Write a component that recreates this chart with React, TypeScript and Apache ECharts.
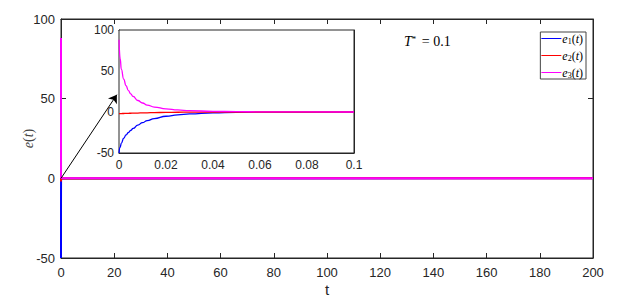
import React, { useEffect, useRef } from "react";
import * as echarts from "echarts";

const tVals = [0, 0.0005, 0.001, 0.002, 0.003, 0.004, 0.005, 0.006, 0.008, 0.01, 0.012, 0.015, 0.02, 0.025, 0.03, 0.04, 0.05, 0.06, 0.08, 0.1];
const e1Vals = [-50, -43, -38, -32, -28, -25, -22.5, -20, -16, -13, -10.5, -8, -5.2, -3.5, -2.4, -1.1, -0.5, -0.2, -0.05, 0];
const e2Vals = [-2, -1.95, -1.9, -1.8, -1.7, -1.6, -1.5, -1.4, -1.25, -1.1, -0.95, -0.75, -0.5, -0.3, -0.2, -0.08, -0.03, -0.01, 0, 0];
const e3Vals = [88, 65, 52, 40, 32, 26, 22, 19, 14, 11, 8.5, 6, 3.8, 2.5, 1.6, 0.8, 0.4, 0.2, 0.05, 0];
const tEnd = 200;
const seriesNames = ["e1", "e2", "e3"];
const seriesColors = ["#0000ff", "#ff0000", "#ff00ff"];
const arrowStart = [0, 0];
const arrowEnd = [21, 52.5];

const FONT = "Liberation Sans, Arial, sans-serif";
const SERIF = "Liberation Serif, Times New Roman, serif";
const AX = "#262626";

function pairs(vals: number[]) {
  return tVals.map((t, i) => [t, vals[i]]);
}

export default function App() {
  const ref = useRef<HTMLDivElement>(null);
  useEffect(() => {
    if (!ref.current) return;
    const chart = echarts.init(ref.current, undefined, { renderer: "svg" });
    const allVals = [e1Vals, e2Vals, e3Vals];
    const axisCommon = (extra: any) => ({
      axisLine: { show: true, onZero: false, lineStyle: { color: AX, width: 1 } },
      axisTick: { show: true, inside: true, length: 5, lineStyle: { color: AX } },
      splitLine: { show: false },
      nameMoveOverlap: false,
      axisLabel: { color: AX, fontFamily: FONT, fontSize: 13 },
      ...extra,
    });
    const mirror = (extra: any) => ({
      axisLine: { show: true, onZero: false, lineStyle: { color: AX, width: 1 } },
      axisTick: { show: true, inside: true, length: 5, lineStyle: { color: AX } },
      splitLine: { show: false },
      axisLabel: { show: false },
      ...extra,
    });
    const mainSeries = allVals.map((v, i) => ({
      name: seriesNames[i],
      type: "line",
      xAxisIndex: 0,
      yAxisIndex: 0,
      data: [...pairs(v), [tEnd, 0]],
      showSymbol: false,
      symbol: "none",
      lineStyle: { color: seriesColors[i], width: 2 },
      itemStyle: { color: seriesColors[i] },
      z: 2 + i,
      ...(i === 2
        ? {
            markLine: {
              silent: true,
              symbol: ["none", "arrow"],
              symbolSize: 8,
              label: { show: false },
              lineStyle: { color: "#000", width: 1, type: "solid" },
              data: [[{ coord: arrowStart }, { coord: arrowEnd }]],
            },
          }
        : {}),
    }));
    const insetSeries = allVals.map((v, i) => ({
      name: seriesNames[i],
      type: "line",
      xAxisIndex: 2,
      yAxisIndex: 2,
      data: pairs(v),
      showSymbol: false,
      symbol: "none",
      smooth: true,
      smoothMonotone: "x",
      lineStyle: { color: seriesColors[i], width: 1.3 },
      itemStyle: { color: seriesColors[i] },
      z: 12 + i,
    }));
    chart.setOption({
      animation: false,
      backgroundColor: "#fff",
      grid: [
        { left: 61, right: 49, top: 19, bottom: 41, show: true, borderColor: AX, borderWidth: 1 },
        { left: 119, right: 288, top: 30, bottom: 149, show: true, backgroundColor: "#fff", borderColor: AX, borderWidth: 1, z: 5 },
      ],
      xAxis: [
        axisCommon({
          type: "value", gridIndex: 0, min: 0, max: 200, interval: 20, position: "bottom",
          name: "t", nameLocation: "middle", nameGap: 24,
          nameTextStyle: { color: AX, fontFamily: FONT, fontSize: 15 },
        }),
        mirror({ type: "value", gridIndex: 0, min: 0, max: 200, interval: 20, position: "top" }),
        axisCommon({
          type: "value", gridIndex: 1, min: 0, max: 0.1, interval: 0.02, position: "bottom",
          axisLabel: { color: AX, fontFamily: FONT, fontSize: 12, margin: 6 },
        }),
        mirror({ type: "value", gridIndex: 1, min: 0, max: 0.1, interval: 0.02, position: "top" }),
      ],
      yAxis: [
        axisCommon({
          type: "value", gridIndex: 0, min: -50, max: 100, interval: 50, position: "left",
          axisLabel: { color: AX, fontFamily: FONT, fontSize: 13, margin: 6 },
          name: "{i|e}({i|t})", nameLocation: "middle", nameGap: 26, nameRotate: 90,
          nameTextStyle: {
            color: "#444", fontFamily: SERIF, fontSize: 14,
            rich: { i: { fontStyle: "italic", fontFamily: SERIF, fontSize: 14, color: "#444" } },
          },
        }),
        mirror({ type: "value", gridIndex: 0, min: -50, max: 100, interval: 50, position: "right" }),
        axisCommon({
          type: "value", gridIndex: 1, min: -50, max: 100, interval: 50, position: "left",
          axisLabel: { color: AX, fontFamily: FONT, fontSize: 12, margin: 5 },
        }),
        mirror({ type: "value", gridIndex: 1, min: -50, max: 100, interval: 50, position: "right" }),
      ],
      legend: {
        data: seriesNames,
        orient: "vertical",
        right: 56,
        top: 32,
        itemWidth: 20,
        itemHeight: 1,
        itemGap: 4,
        icon: "rect",
        padding: [0, 3, 0, 1],
        borderColor: "#444",
        borderWidth: 1,
        backgroundColor: "#fff",
        formatter: (n: string) => `{i|e}{s|${n.slice(1)}}{r|(}{i|t}{r|)}`,
        textStyle: {
          fontFamily: SERIF,
          fontSize: 12,
          lineHeight: 10,
          color: "#000",
          padding: [0, 0, 0, -4],
          rich: {
            i: { fontStyle: "italic", fontFamily: SERIF, fontSize: 12, lineHeight: 10, color: "#000" },
            r: { fontFamily: SERIF, fontSize: 12, lineHeight: 10, color: "#000" },
            s: { fontFamily: SERIF, fontSize: 8, lineHeight: 10, color: "#000", padding: [5, 0, 0, 0] },
          },
        },
      },
      graphic: [
        {
          type: "text",
          left: 404,
          top: 34,
          style: {
            text: "{i|T}{s|*} = 0.1",
            fontFamily: SERIF,
            fontSize: 14,
            fill: "#000",
            rich: {
              i: { fontStyle: "italic", fontFamily: SERIF, fontSize: 14, fill: "#000" },
              s: { fontFamily: SERIF, fontSize: 9, fill: "#000", padding: [0, 2, 6, 0] },
            },
          },
        },
      ],
      series: [...mainSeries, ...insetSeries],
    });
    return () => chart.dispose();
  }, []);
  return <div ref={ref} style={{ position: "fixed", left: 0, top: 0, width: 642, height: 302 }} />;
}
